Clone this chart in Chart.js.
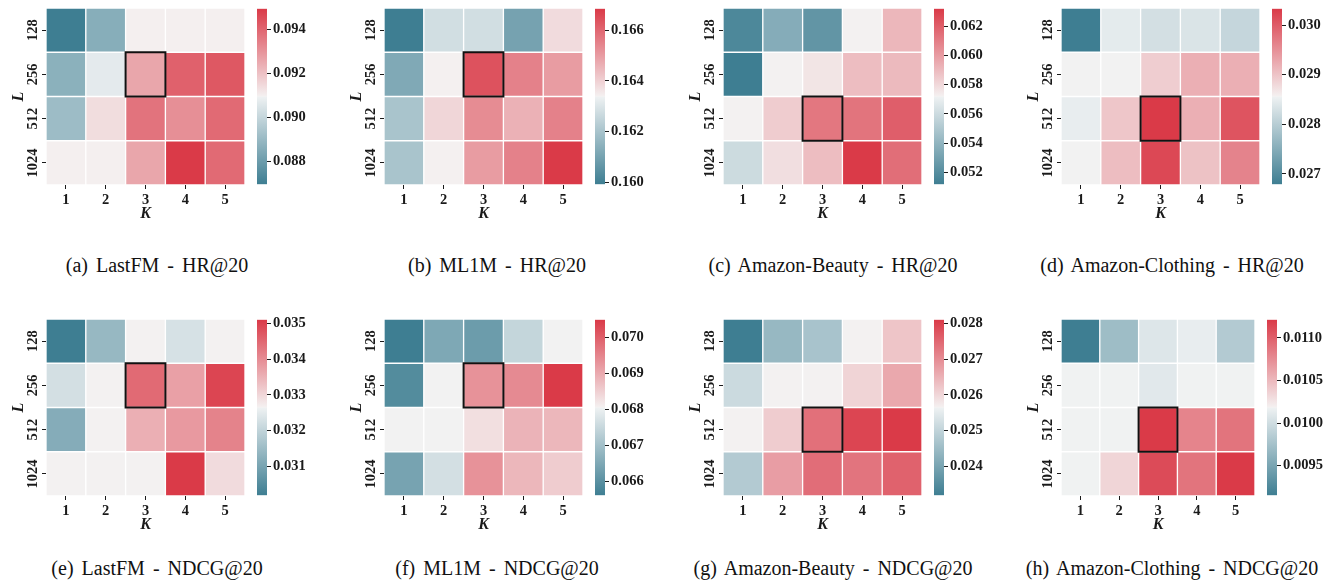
<!DOCTYPE html>
<html>
<head>
<meta charset="utf-8">
<script src="https://cdn.jsdelivr.net/npm/chart.js@4.4.0/dist/chart.umd.min.js"></script>
<style>
  body { margin: 0; background: #fff; width: 1339px; height: 587px; overflow: hidden; position: relative; font-family: "Liberation Serif", serif; }
  canvas { position: absolute; }
  .cap { position: absolute; width: 360px; text-align: center; font-size: 20px; line-height: 24px; color: #111; white-space: pre; word-spacing: 3px; }
</style>
</head>
<body>
<script>
// axis categories
const L_VALUES = ['128', '256', '512', '1024'];
const K_VALUES = ['1', '2', '3', '4', '5'];

// rows = L (128..1024), cols = K (1..5)
const lastfmHR = [
  [0.08695, 0.0886, 0.0910, 0.0910, 0.0910],
  [0.0887, 0.0907, 0.0926, 0.0941, 0.0943],
  [0.0891, 0.0914, 0.0937, 0.0931, 0.0939],
  [0.0910, 0.0910, 0.0926, 0.09495, 0.0939]
];
const ml1mHR = [
  [0.15991, 0.1628, 0.1628, 0.1610, 0.1638],
  [0.1612, 0.1634, 0.1664, 0.1655, 0.1650],
  [0.1620, 0.1639, 0.1653, 0.1646, 0.1655],
  [0.1620, 0.1634, 0.1650, 0.1655, 0.16685]
];
const beautyHR = [
  [0.0517, 0.0536, 0.0524, 0.0572, 0.0591],
  [0.05119, 0.0572, 0.0576, 0.0589, 0.0590],
  [0.0572, 0.0584, 0.0612, 0.0613, 0.0620],
  [0.0560, 0.0578, 0.0589, 0.06319, 0.0615]
];
const clothingHR = [
  [0.02679, 0.02845, 0.02828, 0.02835, 0.02814],
  [0.02856, 0.02856, 0.02891, 0.02920, 0.02920],
  [0.02849, 0.02898, 0.03033, 0.02920, 0.03008],
  [0.02856, 0.02906, 0.03019, 0.02902, 0.02962]
];
const lastfmNDCG = [
  [0.03019, 0.03142, 0.03265, 0.03230, 0.03265],
  [0.03225, 0.03265, 0.03446, 0.03373, 0.03495],
  [0.03117, 0.03265, 0.03353, 0.03382, 0.03412],
  [0.03265, 0.03265, 0.03265, 0.03510, 0.03294]
];
const ml1mNDCG = [
  [0.06561, 0.06649, 0.06624, 0.06746, 0.06805],
  [0.06590, 0.06805, 0.06932, 0.06942, 0.07049],
  [0.06805, 0.06805, 0.06829, 0.06888, 0.06883],
  [0.06639, 0.06766, 0.06932, 0.06883, 0.06854]
];
const beautyNDCG = [
  [0.02319, 0.02442, 0.02466, 0.02565, 0.02624],
  [0.02515, 0.02565, 0.02565, 0.02604, 0.02663],
  [0.02565, 0.02614, 0.02737, 0.02795, 0.02810],
  [0.02481, 0.02677, 0.02741, 0.02732, 0.02756]
];
const clothingNDCG = [
  [0.00915, 0.00971, 0.01008, 0.01014, 0.00983],
  [0.01018, 0.01018, 0.01010, 0.01018, 0.01018],
  [0.01018, 0.01018, 0.011215, 0.01080, 0.01089],
  [0.01018, 0.01034, 0.01112, 0.01089, 0.011215]
];

// colorbar ticks
const lastfmHRTicks = [0.088, 0.090, 0.092, 0.094];
const ml1mHRTicks = [0.160, 0.162, 0.164, 0.166];
const beautyHRTicks = [0.052, 0.054, 0.056, 0.058, 0.060, 0.062];
const clothingHRTicks = [0.027, 0.028, 0.029, 0.030];
const lastfmNDCGTicks = [0.031, 0.032, 0.033, 0.034, 0.035];
const ml1mNDCGTicks = [0.066, 0.067, 0.068, 0.069, 0.070];
const beautyNDCGTicks = [0.024, 0.025, 0.026, 0.027, 0.028];
const clothingNDCGTicks = [0.0095, 0.0100, 0.0105, 0.0110];

const captions = [
  '(a) LastFM - HR@20', '(b) ML1M - HR@20', '(c) Amazon-Beauty - HR@20', '(d) Amazon-Clothing - HR@20',
  '(e) LastFM - NDCG@20', '(f) ML1M - NDCG@20', '(g) Amazon-Beauty - NDCG@20', '(h) Amazon-Clothing - NDCG@20'
];
const panelValues = [lastfmHR, ml1mHR, beautyHR, clothingHR, lastfmNDCG, ml1mNDCG, beautyNDCG, clothingNDCG];
const panelTicks = [lastfmHRTicks, ml1mHRTicks, beautyHRTicks, clothingHRTicks, lastfmNDCGTicks, ml1mNDCGTicks, beautyNDCGTicks, clothingNDCGTicks];
const tickDecimals = [3, 3, 3, 3, 3, 3, 3, 4];
// best cell [L index, K index]
const bestCell = [[1, 2], [1, 2], [2, 2], [2, 2], [1, 2], [1, 2], [2, 2], [2, 2]];

// layout: heatmap box per panel
const boxes = [
  {x: 46, y: 8, w: 199}, {x: 384, y: 8, w: 199}, {x: 723, y: 8, w: 199}, {x: 1061, y: 8, w: 199},
  {x: 46, y: 319, w: 199}, {x: 384, y: 319, w: 199}, {x: 723, y: 319, w: 199}, {x: 1061, y: 319, w: 194}
];
const BOX_H = 177;
const capX = [157, 497, 833, 1172];
const capY = [265, 568];

const FONT = '"Liberation Serif", "Times New Roman", serif';
const tickFont = {family: FONT, size: 14.5, weight: 'bold'};
const titleFont = {family: FONT, size: 16, weight: 'bold', style: 'italic'};
const INK = '#1a1a1a';

// seaborn diverging_palette(220, 10) style, linear in rgb
const STOPS = [
  [0, [62, 126, 146]],
  [0.497, [238, 241, 242]],
  [0.5, [242, 242, 242]],
  [0.503, [244, 240, 240]],
  [1, [218, 58, 72]]
];
function cmap(t) {
  t = Math.max(0, Math.min(1, t));
  for (let i = 1; i < STOPS.length; i++) {
    if (t <= STOPS[i][0]) {
      const [t0, c0] = STOPS[i - 1], [t1, c1] = STOPS[i];
      const f = (t - t0) / (t1 - t0);
      const c = c0.map((v, k) => Math.round(v + (c1[k] - v) * f));
      return `rgb(${c[0]},${c[1]},${c[2]})`;
    }
  }
}

const bestBox = {
  id: 'bestBox',
  afterDatasetsDraw(chart, args, opts) {
    const bar = chart.getDatasetMeta(opts.row).data[opts.col];
    const {x, y, base, width} = bar.getProps(['x', 'y', 'base', 'width'], true);
    const ctx = chart.ctx;
    ctx.save();
    ctx.strokeStyle = '#111';
    ctx.lineWidth = 2;
    ctx.strokeRect(x - width / 2, Math.min(y, base), width, Math.abs(base - y));
    ctx.restore();
  }
};

function addCanvas(left, top, w, h) {
  const cv = document.createElement('canvas');
  cv.width = w; cv.height = h;
  cv.style.left = left + 'px';
  cv.style.top = top + 'px';
  document.body.appendChild(cv);
  return cv;
}

function heatmap(i) {
  const vals = panelValues[i], box = boxes[i];
  const flat = vals.flat();
  const vmin = Math.min(...flat), vmax = Math.max(...flat);
  const cv = addCanvas(box.x - 46, box.y - 8, 46 + box.w + 4, 8 + BOX_H + 40);
  const datasets = vals.map((row, r) => ({
    label: L_VALUES[r],
    data: row.map((v, j) => ({x: K_VALUES[j], y: 1, v: v})),
    backgroundColor: row.map(v => cmap((v - vmin) / (vmax - vmin))),
    borderColor: '#fff',
    borderWidth: 1,
    borderSkipped: false,
    barPercentage: 1,
    categoryPercentage: 1
  }));
  new Chart(cv, {
    type: 'bar',
    data: {labels: K_VALUES, datasets},
    options: {
      responsive: false,
      animation: false,
      layout: {padding: {top: 8, right: 4, left: 0, bottom: 0}},
      plugins: {
        legend: {display: false},
        tooltip: {enabled: false},
        bestBox: {row: bestCell[i][0], col: bestCell[i][1]}
      },
      scales: {
        x: {
          stacked: true,
          grid: {offset: false, drawOnChartArea: false, tickLength: 4, color: INK},
          border: {display: false},
          ticks: {font: tickFont, color: INK, padding: 3},
          title: {display: true, text: 'K', font: titleFont, color: INK, padding: {top: 0, bottom: 2}},
          afterFit: s => { s.height = 40; }
        },
        y: {
          stacked: true,
          reverse: true,
          min: 0,
          max: 4,
          grid: {drawOnChartArea: false, tickLength: 4, color: INK},
          border: {display: false},
          afterBuildTicks: s => { s.ticks = L_VALUES.map((_, k) => ({value: k + 0.5})); },
          ticks: {
            font: tickFont, color: INK, minRotation: 90, maxRotation: 90, crossAlign: 'center', padding: -5.5,
            callback: v => L_VALUES[Math.floor(v)]
          },
          title: {display: true, text: 'L', font: titleFont, color: INK, padding: {top: 9, bottom: 0}},
          afterFit: s => { s.width = 46; }
        }
      }
    },
    plugins: [bestBox]
  });
  return [vmin, vmax];
}

function colorbar(i, vmin, vmax) {
  const box = boxes[i];
  const cv = addCanvas(box.x + box.w + 12, box.y - 10, 80, BOX_H + 20);
  const dec = tickDecimals[i];
  new Chart(cv, {
    type: 'bar',
    data: {
      labels: [''],
      datasets: [{
        data: [[vmin, vmax]],
        borderWidth: 0,
        barPercentage: 1,
        categoryPercentage: 1,
        backgroundColor: c => {
          const a = c.chart.chartArea;
          if (!a) return null;
          const g = c.chart.ctx.createLinearGradient(0, a.bottom, 0, a.top);
          STOPS.forEach(([t, rgb]) => g.addColorStop(t, `rgb(${rgb[0]},${rgb[1]},${rgb[2]})`));
          return g;
        }
      }]
    },
    options: {
      responsive: false,
      animation: false,
      layout: {padding: {top: 10, bottom: 10, left: 0, right: 0}},
      plugins: {legend: {display: false}, tooltip: {enabled: false}},
      scales: {
        x: {display: false},
        y: {
          position: 'right',
          min: vmin,
          max: vmax,
          grid: {drawOnChartArea: false, tickLength: 4, color: INK},
          border: {display: false},
          afterBuildTicks: s => { s.ticks = panelTicks[i].map(v => ({value: v})); },
          ticks: {font: tickFont, color: INK, padding: 2, callback: v => v.toFixed(dec)},
          afterFit: s => { s.width = 70; }
        }
      }
    }
  });
}

for (let i = 0; i < 8; i++) {
  const [vmin, vmax] = heatmap(i);
  colorbar(i, vmin, vmax);
  const d = document.createElement('div');
  d.className = 'cap';
  d.textContent = captions[i];
  d.style.left = (capX[i % 4] - 180) + 'px';
  d.style.top = (capY[Math.floor(i / 4)] - 12) + 'px';
  document.body.appendChild(d);
}
</script>
</body>
</html>
